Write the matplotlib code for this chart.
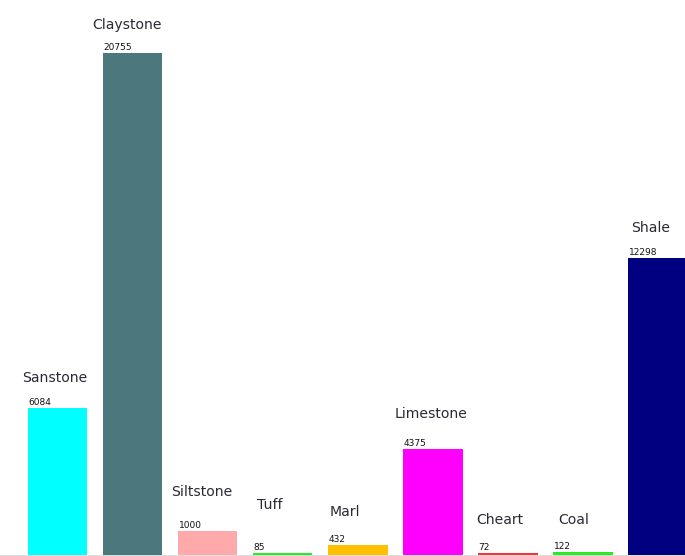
import matplotlib.pyplot as plt

# Rock types and counts
rocks = ['Sanstone', 'Claystone', 'Siltstone', 'Tuff', 'Marl',
         'Limestone', 'Cheart', 'Coal', 'Shale']
counts = [6084, 20755, 1000, 85, 432, 4375, 72, 122, 12298]
colors = ['#00FFFF', '#4A787C', '#FFAAAA', '#22EE22', '#FFC000',
          '#FF00FF', '#FF3030', '#22EE22', '#000080']

# label nudges (pixels) to follow the reference placement
name_dx = [-3, -6, -6, -13, -13, -2, -8, -9, -7]
name_dy = [23, 21, 32, 41, 26, 28, 26, 25, 23]

# dpi 72 so that one point equals one pixel
fig = plt.figure(figsize=(685 / 72, 556 / 72), dpi=72)
ax = fig.add_axes([0, 0, 1, 1])

x = list(range(len(rocks)))
bars = ax.bar(x, counts, width=0.787, color=colors, align='center')

ax.set_xlim(-0.773, 8.36)
ax.set_ylim(-41, 22944)
ax.axhline(0, color='#dddddd', lw=1, zorder=0)

for i, b in enumerate(bars):
    ax.annotate(str(counts[i]), (b.get_x(), b.get_height()),
                xytext=(0, 1), textcoords='offset points',
                ha='left', va='bottom', fontsize=9, color='#111111')
    ax.annotate(rocks[i], (b.get_x() + b.get_width() / 2, b.get_height()),
                xytext=(name_dx[i], name_dy[i]), textcoords='offset points',
                ha='center', va='bottom', fontsize=14, color='#2a2a35')

ax.axis('off')
fig.savefig('out.png', dpi=72)
